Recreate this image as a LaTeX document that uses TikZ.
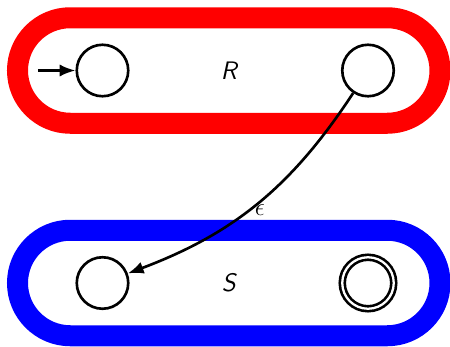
\documentclass[tikz,border=0pt]{standalone}
\usepackage{tikz}
\usetikzlibrary{arrows.meta,positioning,shapes.misc}
\usepackage{xcolor}

\begin{document}
\begin{tikzpicture}[
    state/.style={draw, circle, line width=1.5pt, minimum size=1.03cm, inner sep=0pt},
    accepting/.style={state, double, double distance=1.3pt},
    machine/.style={draw, rounded rectangle, line width=0.42cm,
          minimum width=8.45cm, minimum height=2.11cm, inner sep=0pt,
          font=\Large\sffamily\itshape},
    trans/.style={-{Latex[length=9pt,width=7pt]}, line width=1.5pt}
  ]
    \useasboundingbox (0,0) rectangle (9,6.92);
    \begin{scope}
      \clip (0,0) rectangle (9,6.92);
      % the two sub-automata
      \node[machine, draw=red] (R) at (4.575,5.51) {R};
      \node[machine, draw=blue] (S) at (4.575,1.26) {S};
    \end{scope}

    % states
    \node[state] (q0) at (2.05,5.51) {};
    \node[state] (q1) at (7.36,5.51) {};
    \node[state] (s0) at (2.05,1.26) {};
    \node[accepting] (s1) at (7.36,1.26) {};

    \coordinate[left=0.75cm of q0] (start);
    \draw[trans] (start) -- (q0);
    \draw[trans] (q1) to[bend left=18]
      node[pos=0.54, anchor=west, inner sep=3pt, font=\Large] {$\epsilon$} (s0);
  \end{tikzpicture}
\end{document}
